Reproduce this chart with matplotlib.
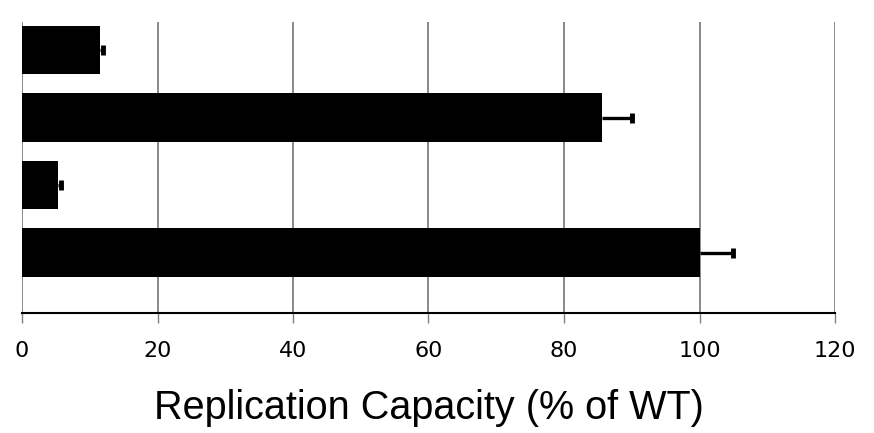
import matplotlib
matplotlib.use("Agg")
import matplotlib.pyplot as plt
import numpy as np

# Data (bottom to top)
positions = [0, 1, 2, 3]
values = [100.0, 5.3, 85.6, 11.5]
errors = [4.9, 0.5, 4.4, 0.5]
xticks = [0, 20, 40, 60, 80, 100, 120]
xlabel = "Replication Capacity (% of WT)"

fig = plt.figure(figsize=(8.74, 4.33), dpi=100)
ax = fig.add_axes([22/874, (433-313)/433, (835-22)/874, (313-22)/433])

ax.barh(positions, values, height=0.72, color="black", zorder=3)
v = np.array(values)
e = np.array(errors)
ax.hlines(positions, v, v + e, color="black", linewidth=2.4, zorder=4)
ax.plot(v + e, positions, linestyle="none", marker="|", markersize=7,
        markeredgewidth=3.5, color="black", zorder=4)

ax.set_xlim(0, 120)
ax.set_ylim(-0.896, 3.415)
ax.set_xticks(xticks)
ax.set_xticklabels([str(t) for t in xticks], fontsize=16, family="DejaVu Sans")
ax.set_yticks([])
ax.xaxis.grid(True, color="#808080", linewidth=1.3, zorder=0)
ax.set_axisbelow(True)
for s in ["top", "right", "left"]:
    ax.spines[s].set_visible(False)
ax.spines["bottom"].set_color("black")
ax.spines["bottom"].set_linewidth(1.5)
ax.tick_params(axis="x", direction="out", length=7, width=1, color="#808080", pad=13)
ax.set_xlabel(xlabel, fontsize=28.5, family="Liberation Sans", labelpad=20)

fig.savefig("out.png", dpi=100)
